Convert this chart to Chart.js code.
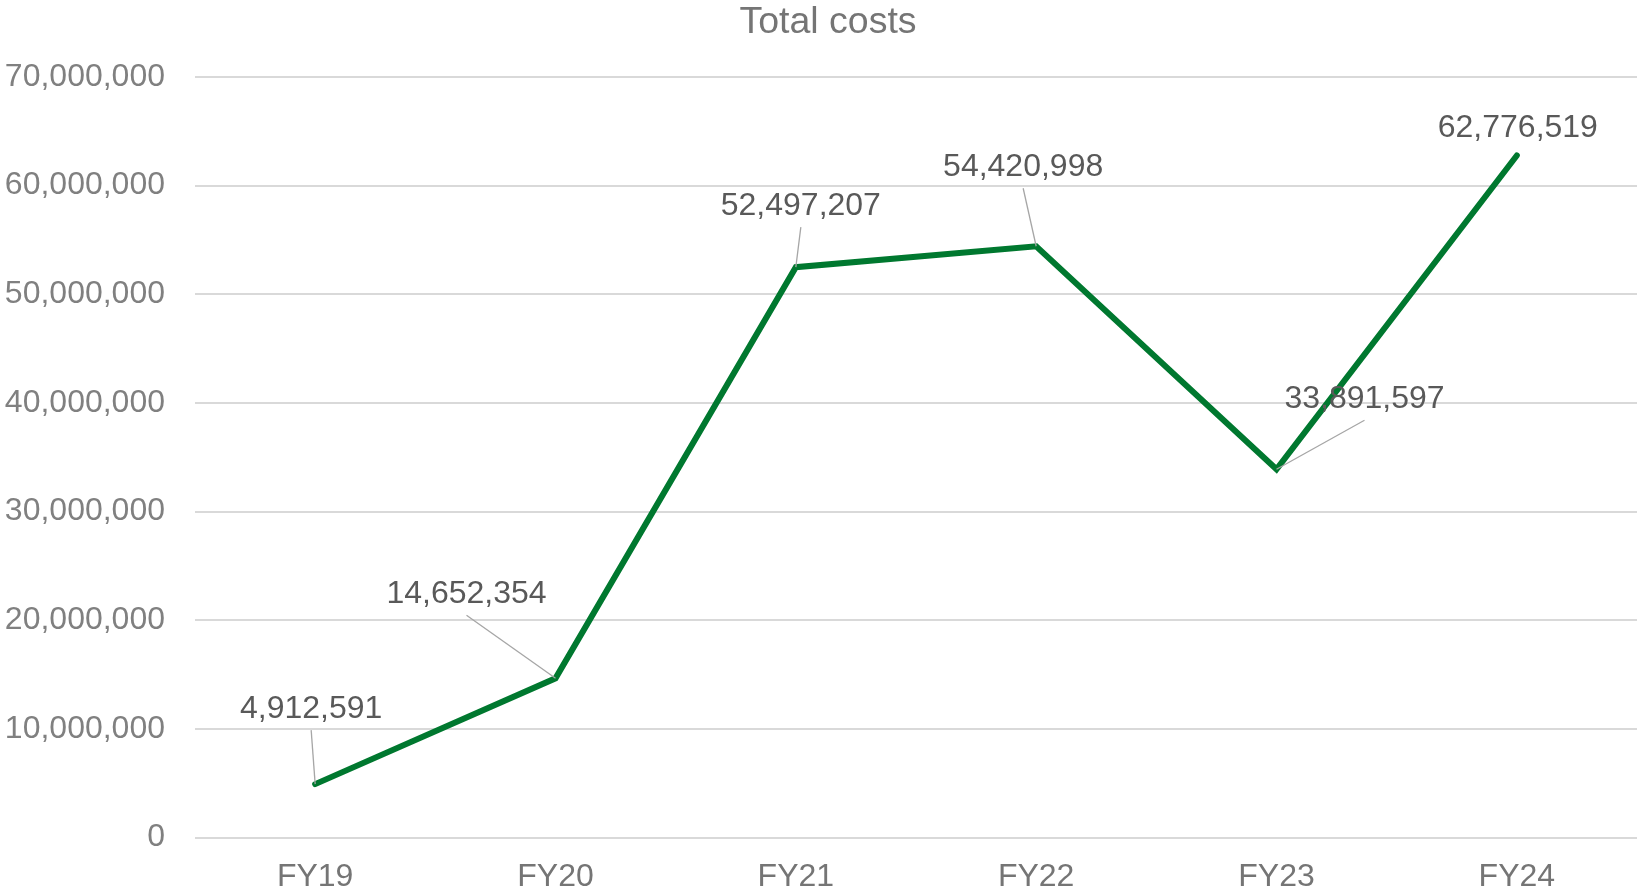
<!DOCTYPE html>
<html>
<head>
<meta charset="utf-8">
<script src="https://cdn.jsdelivr.net/npm/chart.js@4"></script>
<style>
  html, body { margin: 0; padding: 0; background: #ffffff; }
  #wrap { width: 1637px; height: 894px; position: relative; }
</style>
</head>
<body>
<div id="wrap"><canvas id="c" width="1637" height="894"></canvas></div>
<script>
const categories = ['FY19', 'FY20', 'FY21', 'FY22', 'FY23', 'FY24'];
const totalCosts = [4912591, 14652354, 52497207, 54420998, 33891597, 62776519];
const yMin = 0;
const yMax = 70000000;
const yStep = 10000000;
const chartTitle = 'Total costs';

const FONT = '"Liberation Sans", Arial, sans-serif';

// label placement (pixel offsets from each point), kept apart from the data
const labelOffsets = [[-4, -75], [-89, -84], [5, -61], [-13, -79], [88, -70], [1, -27]];

const dataLabelPlugin = {
  id: 'dataLabels',
  afterDatasetsDraw(chart) {
    const ctx = chart.ctx;
    const meta = chart.getDatasetMeta(0);
    ctx.save();
    meta.data.forEach((pt, i) => {
      const [dx, dy] = labelOffsets[i];
      const lx = pt.x + dx, ly = pt.y + dy;
      if (Math.hypot(dx, dy) > 35) {
        ctx.strokeStyle = '#a6a6a6';
        ctx.lineWidth = 1.3;
        ctx.beginPath();
        ctx.moveTo(pt.x, pt.y);
        ctx.lineTo(lx, ly + 21);
        ctx.stroke();
      }
      ctx.font = '32px ' + FONT;
      ctx.fillStyle = '#595959';
      ctx.textAlign = 'center';
      ctx.textBaseline = 'middle';
      ctx.fillText(totalCosts[i].toLocaleString('en-US'), lx, ly);
    });
    // chart title
    ctx.font = '37.5px ' + FONT;
    ctx.fillStyle = '#757575';
    ctx.textAlign = 'center';
    ctx.textBaseline = 'middle';
    ctx.fillText(chartTitle, 828, 23);
    ctx.restore();
  }
};

new Chart(document.getElementById('c'), {
  type: 'line',
  data: {
    labels: categories,
    datasets: [{
      label: chartTitle,
      data: totalCosts,
      borderColor: '#00782F',
      backgroundColor: '#00782F',
      borderWidth: 6,
      pointRadius: 0,
      pointHoverRadius: 0,
      tension: 0,
      borderCapStyle: 'round'
    }]
  },
  options: {
    responsive: false,
    animation: false,
    devicePixelRatio: 1,
    layout: { padding: { left: 0, right: 0, top: 77, bottom: 0 } },
    plugins: {
      legend: { display: false },
      tooltip: { enabled: false },
      title: { display: false }
    },
    scales: {
      x: {
        offset: true,
        grid: { display: false, drawTicks: false },
        border: { display: false },
        ticks: {
          color: '#757575',
          font: { family: FONT, size: 32 },
          padding: 20,
          maxRotation: 0
        },
        afterFit(s) { s.height = 56.5; }
      },
      y: {
        min: yMin,
        max: yMax,
        grid: { color: '#d9d9d9', lineWidth: 2, drawTicks: false },
        border: { display: false },
        ticks: {
          stepSize: yStep,
          color: '#808080',
          font: { family: FONT, size: 32 },
          padding: 30,
          callback: v => Number(v).toLocaleString('en-US')
        },
        afterFit(s) { s.width = 195; }
      }
    }
  },
  plugins: [dataLabelPlugin]
});
</script>
</body>
</html>
